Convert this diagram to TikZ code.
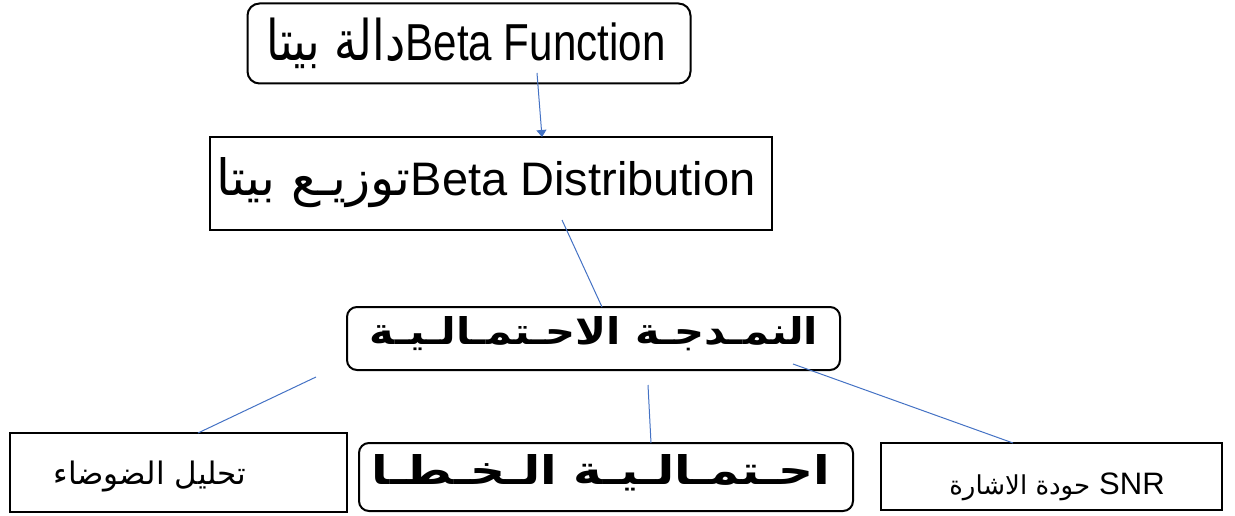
\documentclass[tikz,border=0pt]{standalone}
\usepackage{fontspec}
\usepackage{graphicx}
\setmainfont{Liberation Sans}
\newfontfamily\arabicfont[Script=Arabic]{DejaVu Sans}
\TeXXeTstate=1
\usetikzlibrary{arrows.meta}
\definecolor{linkblue}{RGB}{68,114,196}
\tikzset{
  box/.style={draw=black, line width=2pt, inner sep=0pt, fill=white},
  rbox/.style={box, rounded corners=12pt},
  conn/.style={draw=linkblue, line width=1pt},
  conntip/.style={conn, -{Triangle[width=10pt,length=7pt]}},
}
\begin{document}
\begin{tikzpicture}[x=1pt,y=-1pt]
\useasboundingbox (0,0) rectangle (1235,516);
% boxes
\node[rbox, minimum width=443pt, minimum height=80pt] (func) at (469,43.5) {};
\node (functext) at (466,43)
  {\scalebox{0.81}[1]{{\arabicfont\fontsize{56}{58}\selectfont\beginR دالة بيتا\endR}\fontsize{52}{54}\selectfont Beta Function}};
\node[box, minimum width=562pt, minimum height=93pt] (dist) at (491,183.5) {};
\node (disttext) at (486,183)
  {{\arabicfont\fontsize{50}{52}\selectfont\beginR توزيـع بيتا\endR}\fontsize{47}{49}\selectfont Beta Distribution};
\node[rbox, rounded corners=10pt, minimum width=493pt, minimum height=63pt] (model) at (593.5,338.5) {};
\node[font=\arabicfont\bfseries] (modeltext) at (594,334)
  {\resizebox{448pt}{28pt}{\beginR النمـدجـة  الاحـتمـالـيـة\endR}};
\node[box, minimum width=337pt, minimum height=79pt] (noise) at (178.5,472.5) {};
\node[font=\arabicfont\fontsize{31}{33}\selectfont] (noisetext) at (150,477)
  {\beginR تحليل الضوضاء\endR};
\node[rbox, rounded corners=10pt, minimum width=494pt, minimum height=68pt] (err) at (606,477) {};
\node[font=\arabicfont\bfseries] (errtext) at (601,473)
  {\resizebox{458pt}{30pt}{\beginR احـتمـالـيـة  الـخـطـا\endR}};
\node[box, minimum width=341pt, minimum height=67pt] (snr) at (1051.5,476.5) {};
\node (snrtext) at (1057,487)
  {{\arabicfont\fontsize{26}{28}\selectfont\beginR حودة الاشارة\endR}\hspace{9pt}{\fontsize{31}{32}\selectfont SNR}};
% connector ends
\coordinate (a1) at (537,73);
\coordinate (a2) at (542,137);
\coordinate (b1) at (562,220);
\coordinate (b2) at (602,307);
\coordinate (c1) at (316,377);
\coordinate (c2) at (198,433);
\coordinate (d1) at (648,385);
\coordinate (d2) at (651,443);
\coordinate (e1) at (793,364);
\coordinate (e2) at (1013,443);
\draw[conntip] (a1) -- (a2);
\draw[conn] (b1) -- (b2);
\draw[conn] (c1) -- (c2);
\draw[conn] (d1) -- (d2);
\draw[conn] (e1) -- (e2);
\end{tikzpicture}
\end{document}
